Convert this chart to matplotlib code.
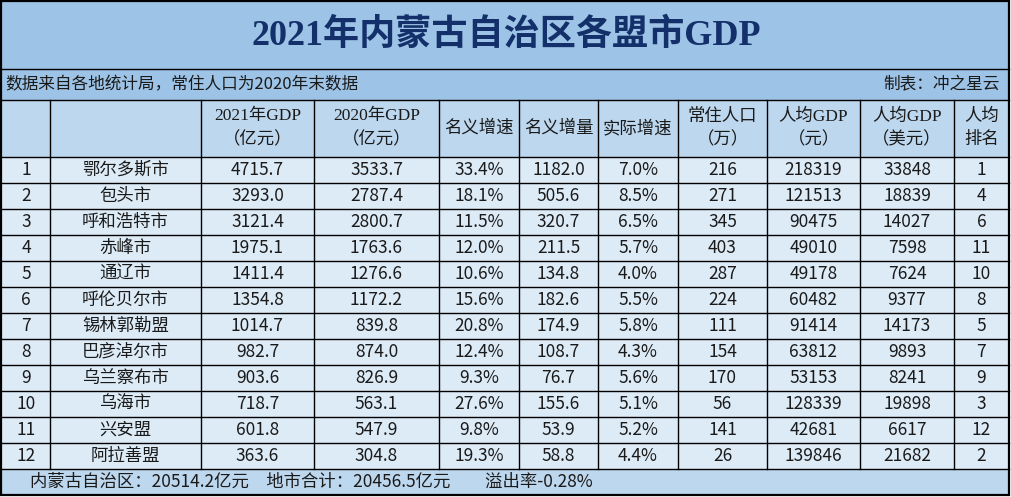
import matplotlib
matplotlib.use("Agg")
from matplotlib import pyplot as plt
from matplotlib.patches import Rectangle

plt.rcParams['font.family'] = ['Noto Sans CJK SC', 'DejaVu Sans']
SERIF = ['Liberation Serif', 'Noto Sans CJK SC']

title = "2021年内蒙古自治区各盟市GDP"
note_left = "数据来自各地统计局，常住人口为2020年末数据"
note_right = "制表：冲之星云"
footer = "内蒙古自治区：20514.2亿元　地市合计：20456.5亿元　　溢出率-0.28%"

headers = ["", "", "2021年GDP\n（亿元）", "2020年GDP\n（亿元）", "名义增速", "名义增量",
           "实际增速", "常住人口\n（万）", "人均GDP\n（元）", "人均GDP\n（美元）", "人均\n排名"]

cities = ["鄂尔多斯市", "包头市", "呼和浩特市", "赤峰市", "通辽市", "呼伦贝尔市",
          "锡林郭勒盟", "巴彦淖尔市", "乌兰察布市", "乌海市", "兴安盟", "阿拉善盟"]
gdp_2021 = [4715.7, 3293.0, 3121.4, 1975.1, 1411.4, 1354.8, 1014.7, 982.7, 903.6, 718.7, 601.8, 363.6]
gdp_2020 = [3533.7, 2787.4, 2800.7, 1763.6, 1276.6, 1172.2, 839.8, 874.0, 826.9, 563.1, 547.9, 304.8]
nominal_growth = [33.4, 18.1, 11.5, 12.0, 10.6, 15.6, 20.8, 12.4, 9.3, 27.6, 9.8, 19.3]
nominal_incr = [1182.0, 505.6, 320.7, 211.5, 134.8, 182.6, 174.9, 108.7, 76.7, 155.6, 53.9, 58.8]
real_growth = [7.0, 8.5, 6.5, 5.7, 4.0, 5.5, 5.8, 4.3, 5.6, 5.1, 5.2, 4.4]
population = [216, 271, 345, 403, 287, 224, 111, 154, 170, 56, 141, 26]
gdp_pc_cny = [218319, 121513, 90475, 49010, 49178, 60482, 91414, 63812, 53153, 128339, 42681, 139846]
gdp_pc_usd = [33848, 18839, 14027, 7598, 7624, 9377, 14173, 9893, 8241, 19898, 6617, 21682]
pc_rank = [1, 4, 6, 11, 10, 8, 5, 7, 9, 3, 12, 2]

# layout in pixels
W, H = 1012, 497
col_x = [1, 50, 201, 314, 439, 519, 598, 678, 767, 860, 954, 1009]
y_title, y_note, y_head, y_data = 1, 69, 100, 157
row_h = 26
y_foot = y_data + row_h * len(cities)
y_end = 495

c_title = "#9DC3E6"
c_head = "#BDD7EE"
c_data = "#DDEBF7"
c_text = "#1a1a1a"

fig = plt.figure(figsize=(W / 100, H / 100), dpi=100)
ax = fig.add_axes([0, 0, 1, 1])
ax.set_xlim(0, W)
ax.set_ylim(H, 0)
ax.axis("off")
fig.patch.set_facecolor("white")


def band(y0, y1, color):
    ax.add_patch(Rectangle((col_x[0], y0), col_x[-1] - col_x[0], y1 - y0,
                           facecolor=color, edgecolor="none", zorder=0))


band(y_title, y_note, c_title)
band(y_note, y_head, c_title)
band(y_head, y_data, c_head)
band(y_data, y_foot, c_data)
band(y_foot, y_end, c_head)

# horizontal lines
for y in [y_note, y_head] + [y_data + row_h * i for i in range(len(cities) + 1)]:
    ax.plot([col_x[0], col_x[-1]], [y, y], color="black", lw=1.0, zorder=2)
# vertical lines inside table
for x in col_x[1:-1]:
    ax.plot([x, x], [y_head, y_foot], color="black", lw=1.0, zorder=2)
# outer border
ax.add_patch(Rectangle((col_x[0], y_title), col_x[-1] - col_x[0], y_end - y_title,
                       facecolor="none", edgecolor="black", lw=1.6, zorder=3))

ax.text(W / 2, (y_title + y_note) / 2 + 1, title, ha="center", va="center",
        fontsize=26, fontweight="bold", color="#13306A", family=SERIF)
ax.text(5, (y_note + y_head) / 2, note_left, ha="left", va="center", fontsize=12, color=c_text)
ax.text(1000, (y_note + y_head) / 2, note_right, ha="right", va="center", fontsize=12, color=c_text)

for j, h in enumerate(headers):
    xc = (col_x[j] + col_x[j + 1]) / 2
    ax.text(xc, (y_head + y_data) / 2, h, ha="center", va="center", fontsize=12.5,
            color=c_text, linespacing=1.6, family=SERIF)

for i in range(len(cities)):
    row = [str(i + 1), cities[i], f"{gdp_2021[i]:.1f}", f"{gdp_2020[i]:.1f}",
           f"{nominal_growth[i]:.1f}%", f"{nominal_incr[i]:.1f}", f"{real_growth[i]:.1f}%",
           str(population[i]), str(gdp_pc_cny[i]), str(gdp_pc_usd[i]), str(pc_rank[i])]
    yc = y_data + row_h * i + row_h / 2
    for j, v in enumerate(row):
        xc = (col_x[j] + col_x[j + 1]) / 2
        if j == 0:
            xc = 26
        ax.text(xc, yc, v, ha="center", va="center", fontsize=12.5,
                color=c_text, fontweight="light")

ax.text(30, (y_foot + y_end) / 2, footer, ha="left", va="center", fontsize=12.5, color=c_text)

fig.savefig("out.png", dpi=100)
